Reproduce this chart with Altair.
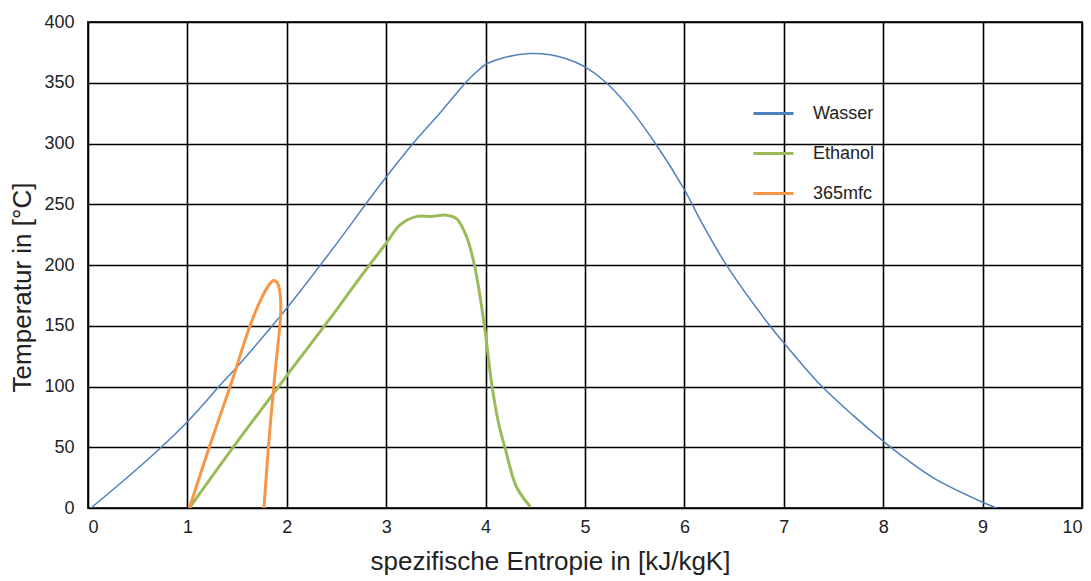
import altair as alt
import pandas as pd

# Wasser (water) saturation curve
wasser_s = [0.03, 0.35, 0.71, 1.0, 1.34, 1.53, 1.995, 2.45, 2.94, 3.28, 3.55, 3.81, 3.91, 4.0, 4.2, 4.45,
            4.65, 4.82, 5.0, 5.2, 5.42, 5.70, 6.0, 6.16, 6.43, 6.86, 7.0, 7.36, 7.7, 8.0, 8.17, 8.5, 9.0, 9.14]
wasser_T = [0, 22, 48, 71, 102, 119, 164, 212, 266, 301, 326, 351, 359, 365, 371, 374,
            373, 369.5, 363, 351, 332, 301, 262, 237, 199, 150, 136, 102, 76, 55, 44, 25, 4.7, 0]

# Ethanol
ethanol_s = [1.02, 1.425, 2.0, 2.5, 2.74, 3.0, 3.14, 3.31, 3.45, 3.61, 3.71, 3.81, 3.89, 3.99, 4.06, 4.13, 4.2, 4.31, 4.45]
ethanol_T = [0, 46, 109, 163, 190, 218, 233, 240, 240, 241, 238, 223, 199, 149, 103, 70, 48, 17.5, 1]

# 365mfc
mfc_s = [1.02, 1.22, 1.43, 1.63, 1.73, 1.80, 1.86, 1.90, 1.93, 1.94, 1.93, 1.88, 1.82, 1.77]
mfc_T = [0, 50, 100, 150, 170, 181, 187, 186, 178, 165, 150, 110, 55, 0]

series_names = ["Wasser", "Ethanol", "365mfc"]
series_colors = ["#4F81BD", "#9BBB59", "#F79646"]

x_ticks = list(range(0, 11))
y_ticks = list(range(0, 401, 50))

rows = []
for name, xs, ys in [("Wasser", wasser_s, wasser_T), ("Ethanol", ethanol_s, ethanol_T), ("365mfc", mfc_s, mfc_T)]:
    for i, (a, b) in enumerate(zip(xs, ys)):
        rows.append({"series": name, "s": a, "T": b, "i": i})
df = pd.DataFrame(rows)

font = "Liberation Sans, Arial"

chart = alt.Chart(df).mark_line(interpolate="catmull-rom", clip=True).encode(
    x=alt.X("s:Q", scale=alt.Scale(domain=[0, 10], nice=False),
            axis=alt.Axis(values=x_ticks, title="spezifische Entropie in [kJ/kgK]", format="d",
                          labelPadding=10, titlePadding=12, titleX=462, titleAlign="center")),
    y=alt.Y("T:Q", scale=alt.Scale(domain=[0, 400], nice=False),
            axis=alt.Axis(values=y_ticks, title="Temperatur in [°C]", format="d",
                          labelPadding=14, titlePadding=8, titleY=265, titleAlign="center")),
    color=alt.Color("series:N", scale=alt.Scale(domain=series_names, range=series_colors),
                    legend=alt.Legend(orient="none", legendX=664, legendY=70, title=None,
                                      symbolType="stroke", symbolSize=1600, symbolStrokeWidth=3,
                                      labelFont=font, labelFontSize=18, labelColor="#222",
                                      labelOffset=18, rowPadding=9)),
    strokeWidth=alt.condition(alt.datum.series == "Wasser", alt.value(1.5), alt.value(3)),
    detail="series:N",
    order="i:Q",
).properties(
    width=994, height=486,
    autosize=alt.AutoSizeParams(type="none"),
    padding={"left": 88, "top": 22, "right": 9, "bottom": 73},
    background="white",
).configure_axis(
    grid=True, gridColor="#000", gridWidth=1.6, gridOpacity=1,
    domain=False, ticks=False,
    labelFont=font, labelFontSize=18, labelColor="#222",
    titleFont=font, titleFontSize=26, titleFontWeight="normal", titleColor="#222",
).configure_view(
    stroke="#333", strokeWidth=2
)

chart.save("out.html", embed_options={"renderer": "svg", "actions": False})
